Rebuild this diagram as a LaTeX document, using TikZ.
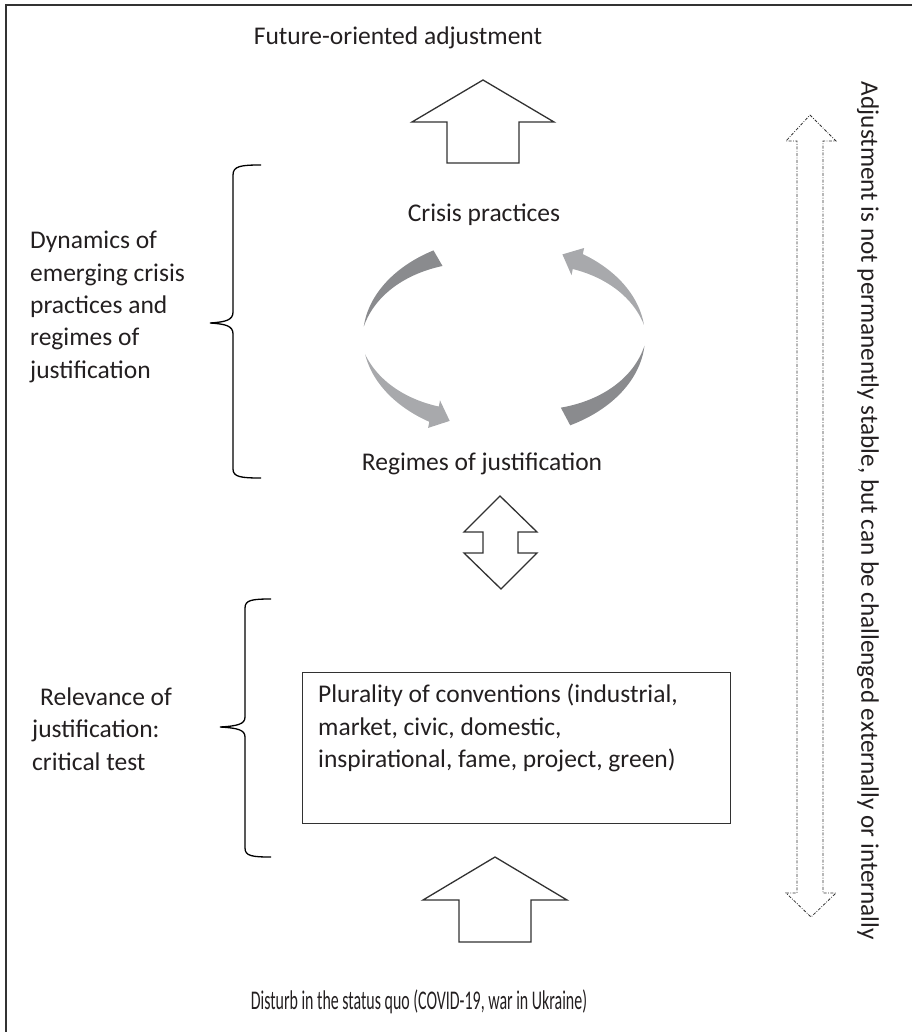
\documentclass[tikz,border=0pt]{standalone}
\usepackage{fontspec}
\setmainfont{Carlito}
\newfontfamily\condfont[FakeStretch=0.59]{Carlito}
\definecolor{arrdark}{RGB}{138,139,142}
\definecolor{arrlight}{RGB}{168,169,172}
\definecolor{linegray}{RGB}{50,50,50}
\definecolor{txt}{RGB}{35,31,32}
\begin{document}
\begin{tikzpicture}[x=1pt,y=-1pt,
  lbl/.style={inner sep=0pt, font=\fontsize{25.5}{32.4}\selectfont, text=txt},
  blockarrow/.style={draw=linegray, line width=1.3pt, fill=white, line join=miter},
  bracestyle/.style={draw=black, line width=1.3pt},
  dasharrow/.style={draw=linegray, line width=0.8pt, dash pattern=on 3pt off 1.5pt on 0.8pt off 1.5pt},
  framestyle/.style={draw=linegray, line width=2pt},
  boxstyle/.style={draw=linegray, line width=1.4pt, inner sep=0pt}]
\useasboundingbox (0,0) rectangle (911,1032);
% outer frame (extends past the picture's right and bottom edges)
\draw[framestyle] (6,5) rectangle (930,1050);

% top texts
\node[lbl] (future) at (398,38) {Future-oriented adjustment};
\node[lbl] (crisis) at (484,215) {Crisis practices};
\node[lbl] (regimes) at (482,464) {Regimes of justification};
\node[lbl, font=\condfont\fontsize{27}{30}\selectfont] (disturb) at (419,1002) {Disturb in the status quo (COVID-19, war in Ukraine)};

% left labels
\node[lbl, anchor=west, align=left] (dynamics) at (30,307) {Dynamics of\\emerging crisis\\practices and\\regimes of\\justification};
\node[lbl, anchor=west, align=left] (relevance) at (32,729) {\hspace*{8pt}Relevance of\\justification:\\critical test};

% box with conventions
\node[boxstyle, anchor=north west, minimum width=428pt, minimum height=151pt] (conv) at (302,672) {};
\node[lbl, anchor=north west, align=left] (convtext) at ([xshift=16pt,yshift=-12pt]conv.north west) {Plurality of conventions (industrial,\\market, civic, domestic,\\inspirational, fame, project, green)};

% rotated text
\node[lbl, rotate=-90, font=\fontsize{25.2}{30}\selectfont] (stable) at (868,511) {Adjustment is not permanently stable, but can be challenged externally or internally};

% top block arrow
\draw[blockarrow] (483,80) -- (554,122) -- (519,122) -- (519,163) -- (447,163) -- (447,122) -- (412,122) -- cycle;
% double block arrow
\draw[blockarrow] (500,496) -- (537,532) -- (518,532) -- (518,553) -- (537,553) -- (501,589) -- (464,553) -- (483,553) -- (483,532) -- (464,532) -- cycle;
% bottom block arrow
\draw[blockarrow] (495,857) -- (567,900) -- (531,900) -- (531,942) -- (459,942) -- (459,900) -- (423,900) -- cycle;

% dashed double arrow on the right
\draw[dasharrow] (810,115) -- (836,141) -- (823,141) -- (823,893) -- (836,893) -- (811,917) -- (786,893) -- (797,893) -- (797,141) -- (786,141) -- cycle;

% braces
\draw[bracestyle] (261,165) .. controls (241,165) and (233,166) .. (233,175) -- (233,312) .. controls (233,320) and (226,322) .. (210,323) .. controls (226,324) and (233,326) .. (233,334) -- (233,469) .. controls (233,477) and (241,478) .. (261,478);
\draw[bracestyle] (271,599) .. controls (252,599) and (245,600) .. (245,608) -- (245,717) .. controls (245,724) and (238,726) .. (220,727) .. controls (238,728) and (245,730) .. (245,737) -- (245,848) .. controls (245,856) and (252,857) .. (271,857);

% circular arrows
\fill[arrdark] plot[domain=240:186,samples=40] ({504+141*cos(\x)},{337+100*sin(\x)}) -- plot[domain=186:240,samples=40] ({504+(141-18*(\x-186)/54)*cos(\x)},{337+(100-18*(\x-186)/54)*sin(\x)}) -- cycle;
\fill[arrlight] plot[domain=170:122,samples=40] ({504+141*cos(\x)},{337+100*sin(\x)}) -- (428.1,427.9) -- (449.7,420.9) -- (440.0,400.4) -- plot[domain=122:170,samples=40] ({504+(141-18*(170-\x)/48)*cos(\x)},{337+(100-18*(170-\x)/48)*sin(\x)}) -- cycle;
\fill[arrdark] plot[domain=62:5,samples=40] ({504+141*cos(\x)},{337+100*sin(\x)}) -- plot[domain=5:62,samples=40] ({504+(141-20*(\x-5)/57)*cos(\x)},{337+(100-20*(\x-5)/57)*sin(\x)}) -- cycle;
\fill[arrlight] plot[domain=353:304,samples=40] ({504+141*cos(\x)},{337+100*sin(\x)}) -- (584.1,248.0) -- (562.4,254.4) -- (571.5,275.2) -- plot[domain=304:353,samples=40] ({504+(141-18*(353-\x)/49)*cos(\x)},{337+(100-18*(353-\x)/49)*sin(\x)}) -- cycle;
\end{tikzpicture}
\end{document}
